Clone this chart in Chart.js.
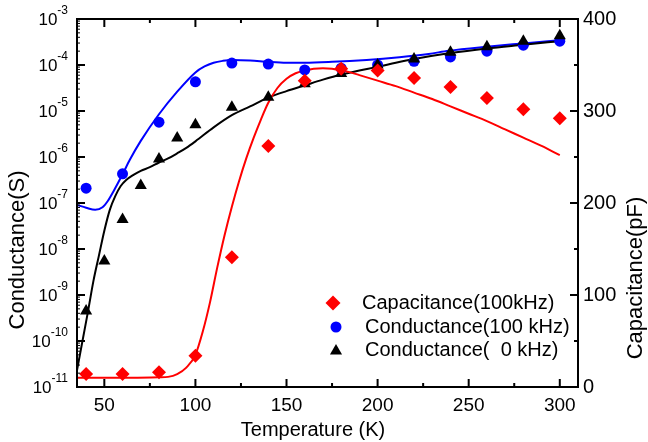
<!DOCTYPE html>
<html>
<head>
<meta charset="utf-8">
<title>Conductance and capacitance vs temperature</title>
<script src="https://cdn.jsdelivr.net/npm/chart.js@4.4.0/dist/chart.umd.min.js"></script>
<style>
  html, body { margin: 0; padding: 0; background: #fff; }
  #wrap { width: 648px; height: 442px; }
</style>
</head>
<body>
<div id="wrap"><canvas id="tempChart"></canvas></div>
<script>
// measured points
const tempPts = [40, 60, 80, 100, 120, 140, 160, 180, 200, 220, 240, 260, 280, 300];
const capPts = [14, 14, 16, 34, 141, 262, 333, 346, 344, 336, 326, 314, 302, 292];
const cond100Pts = [2.1e-7, 4.3e-7, 5.7e-6, 4.3e-5, 1.1e-4, 1.05e-4, 7.8e-5, 8.5e-5, 1.0e-4, 1.2e-4, 1.5e-4, 2.0e-4, 2.7e-4, 3.3e-4];
const temp0Pts = [40, 50, 60, 70, 80, 90, 100, 120, 140, 160, 180, 200, 220, 240, 260, 280, 300];
const cond0Pts = [4.5e-10, 5.5e-9, 4.4e-8, 2.4e-7, 9e-7, 2.6e-6, 5e-6, 1.2e-5, 2e-5, 3.9e-5, 6.5e-5, 1.0e-4, 1.35e-4, 1.9e-4, 2.5e-4, 3.3e-4, 4.3e-4];

// fitted curves
const capFitT = [35, 50, 65, 80, 85, 90, 95, 100, 104, 108, 112, 116, 120, 124, 128, 132, 136, 140, 145, 150, 155, 160, 165, 170, 175, 180, 185, 190, 200, 210, 220, 230, 240, 250, 260, 270, 280, 290, 300];
const capFit = [10, 10, 10, 10.5, 11, 14, 21, 35, 60, 92, 130, 165, 196, 224, 249, 271, 291, 309, 325, 335, 341, 344, 346, 346.5, 346, 344, 342, 339, 333, 327, 320, 313, 305, 297, 289, 280, 271, 262, 252];
const cond100FitT = [35, 40, 45, 49, 52, 55, 60, 64, 70, 80, 90, 100, 105, 110, 115, 120, 130, 140, 150, 160, 175, 194, 212, 228, 239, 260, 280, 300];
const cond100Fit = [9.1e-8, 7.9e-8, 7.1e-8, 8.1e-8, 1.12e-7, 1.78e-7, 4.2e-7, 8.7e-7, 2.24e-6, 8.5e-6, 2.63e-5, 6.9e-5, 9.3e-5, 1.12e-4, 1.23e-4, 1.29e-4, 1.26e-4, 1.17e-4, 1.12e-4, 1.12e-4, 1.17e-4, 1.29e-4, 1.48e-4, 1.74e-4, 2.04e-4, 2.5e-4, 2.95e-4, 3.47e-4];
const cond0FitT = [35, 38, 41, 44, 47, 50, 53, 56, 59, 62, 66, 70, 75, 80, 85, 90, 95, 100, 110, 120, 130, 140, 150, 160, 170, 180, 190, 200, 210, 220, 240, 260, 280, 300];
const cond0Fit = [2.3e-11, 1.0e-10, 4.3e-10, 2.0e-9, 7.1e-9, 2.5e-8, 7.1e-8, 1.41e-7, 2.34e-7, 3.16e-7, 4.1e-7, 5.0e-7, 6.0e-7, 7.6e-7, 9.3e-7, 1.2e-6, 1.58e-6, 2.19e-6, 4.4e-6, 8.1e-6, 1.26e-5, 1.95e-5, 2.7e-5, 3.6e-5, 4.8e-5, 6.2e-5, 7.6e-5, 9.1e-5, 1.12e-4, 1.35e-4, 1.82e-4, 2.29e-4, 2.75e-4, 3.3e-4];

// axis ticks
const xTicks = [50, 100, 150, 200, 250, 300];
const xMinorTicks = [75, 125, 175, 225, 275];
const capTicks = [0, 100, 200, 300, 400];
const capMinorTicks = [50, 150, 250, 350];
const condExponents = [-3, -4, -5, -6, -7, -8, -9, -10, -11];

const legendLabels = ['Capacitance(100kHz)', 'Conductance(100 kHz)', 'Conductance(  0 kHz)'];

const RED = '#ff0000', BLUE = '#0000ff', BLACK = '#000000';
const FONT = "'Liberation Sans', Arial, sans-serif";
Chart.defaults.font.family = FONT;

const pairs = (xs, ys) => xs.map((x, i) => ({ x: x, y: ys[i] }));

function marker(ctx, style, x, y, r) {
  ctx.beginPath();
  if (style === 'rectRot') {
    ctx.moveTo(x, y - r); ctx.lineTo(x + r, y); ctx.lineTo(x, y + r); ctx.lineTo(x - r, y);
  } else if (style === 'triangle') {
    ctx.moveTo(x, y - r);
    ctx.lineTo(x + r * 0.866, y + r * 0.5);
    ctx.lineTo(x - r * 0.866, y + r * 0.5);
  } else {
    ctx.arc(x, y, r, 0, Math.PI * 2);
  }
  ctx.closePath();
  ctx.fill();
}

// frame, inward ticks, log labels, titles and legend
const decorations = {
  id: 'decorations',
  afterDraw(chart) {
    const { ctx, chartArea: a, scales } = chart;
    const x = scales.x, yL = scales.y, yR = scales.yR;
    ctx.save();
    ctx.strokeStyle = BLACK;
    ctx.fillStyle = BLACK;

    ctx.lineWidth = 2;
    ctx.strokeRect(a.left, a.top, a.right - a.left, a.bottom - a.top);

    ctx.beginPath();
    const tickX = (v, len) => {
      const px = x.getPixelForValue(v);
      ctx.moveTo(px, a.bottom); ctx.lineTo(px, a.bottom - len);
      ctx.moveTo(px, a.top); ctx.lineTo(px, a.top + len);
    };
    xTicks.forEach(v => tickX(v, 8));
    xMinorTicks.forEach(v => tickX(v, 4));
    condExponents.forEach(e => {
      const py = yL.getPixelForValue(Math.pow(10, e));
      ctx.moveTo(a.left, py); ctx.lineTo(a.left + 8, py);
    });
    capTicks.forEach(v => {
      const py = yR.getPixelForValue(v);
      ctx.moveTo(a.right, py); ctx.lineTo(a.right - 8, py);
    });
    capMinorTicks.forEach(v => {
      const py = yR.getPixelForValue(v);
      ctx.moveTo(a.right, py); ctx.lineTo(a.right - 4, py);
    });
    ctx.stroke();

    // log minor ticks
    ctx.lineWidth = 1;
    ctx.beginPath();
    condExponents.slice(1).forEach(e => {
      for (let m = 2; m <= 9; m++) {
        const py = yL.getPixelForValue(m * Math.pow(10, e));
        ctx.moveTo(a.left, py); ctx.lineTo(a.left + 3, py);
      }
    });
    ctx.stroke();

    // left tick labels 10^n
    ctx.textBaseline = 'middle';
    ctx.textAlign = 'right';
    condExponents.forEach(e => {
      const py = yL.getPixelForValue(Math.pow(10, e));
      const sup = String(e);
      ctx.font = '12px ' + FONT;
      const w = ctx.measureText(sup).width;
      ctx.fillText(sup, 68, py - 8);
      ctx.font = '17px ' + FONT;
      ctx.fillText('10', 68 - w, py + 1);
    });

    // axis titles
    ctx.textAlign = 'center';
    ctx.font = '20px ' + FONT;
    ctx.fillText('Temperature (K)', 313, 430);
    ctx.font = '22px ' + FONT;
    ctx.save();
    ctx.translate(18, 250);
    ctx.rotate(-Math.PI / 2);
    ctx.fillText('Conductance(S)', 0, 0);
    ctx.restore();
    ctx.save();
    ctx.translate(636, 278);
    ctx.rotate(-Math.PI / 2);
    ctx.fillText('Capacitance(pF)', 0, 0);
    ctx.restore();

    // legend
    const items = [
      { style: 'rectRot', color: RED, r: 7.5, mx: 333, tx: 362, y: 303 },
      { style: 'circle', color: BLUE, r: 5.5, mx: 336, tx: 365, y: 327 },
      { style: 'triangle', color: BLACK, r: 7, mx: 336, tx: 365, y: 350 }
    ];
    ctx.font = '20px ' + FONT;
    ctx.textAlign = 'left';
    items.forEach((it, i) => {
      ctx.fillStyle = it.color;
      marker(ctx, it.style, it.mx, it.style === 'triangle' ? it.y + 1 : it.y, it.r);
      ctx.fillStyle = BLACK;
      ctx.fillText(legendLabels[i], it.tx, it.y);
    });
    ctx.restore();
  }
};

const fitLine = { showLine: true, pointRadius: 0, borderWidth: 2, cubicInterpolationMode: 'monotone' };

new Chart(document.getElementById('tempChart'), {
  type: 'scatter',
  data: {
    datasets: [
      {
        label: legendLabels[0], data: pairs(tempPts, capPts), yAxisID: 'yR',
        pointStyle: 'rectRot', pointRadius: 7, borderWidth: 0,
        backgroundColor: RED, borderColor: RED
      },
      {
        label: legendLabels[2], data: pairs(temp0Pts, cond0Pts), yAxisID: 'y',
        pointStyle: 'triangle', pointRadius: 7, borderWidth: 0,
        backgroundColor: BLACK, borderColor: BLACK
      },
      {
        label: legendLabels[1], data: pairs(tempPts, cond100Pts), yAxisID: 'y',
        pointStyle: 'circle', pointRadius: 5.5, borderWidth: 0,
        backgroundColor: BLUE, borderColor: BLUE
      },
      Object.assign({ label: 'capacitance fit', data: pairs(capFitT, capFit), yAxisID: 'yR', borderColor: RED }, fitLine),
      Object.assign({ label: 'conductance 0 kHz fit', data: pairs(cond0FitT, cond0Fit), yAxisID: 'y', borderColor: BLACK }, fitLine),
      Object.assign({ label: 'conductance 100 kHz fit', data: pairs(cond100FitT, cond100Fit), yAxisID: 'y', borderColor: BLUE }, fitLine)
    ]
  },
  options: {
    responsive: true,
    maintainAspectRatio: false,
    animation: false,
    layout: { padding: { top: 19, left: 0, right: 0, bottom: 0 } },
    plugins: {
      legend: { display: false },
      tooltip: { enabled: false }
    },
    scales: {
      x: {
        type: 'linear', min: 35, max: 310,
        afterBuildTicks: s => { s.ticks = xTicks.map(v => ({ value: v })); },
        afterFit: s => { s.height = 55; },
        grid: { display: false, drawTicks: false },
        border: { display: false },
        ticks: { font: { size: 19 }, color: BLACK, padding: 7, maxRotation: 0, autoSkip: false }
      },
      y: {
        type: 'logarithmic', position: 'left', min: 1e-11, max: 1e-3,
        afterFit: s => { s.width = 77; },
        grid: { display: false, drawTicks: false },
        border: { display: false },
        ticks: { display: false }
      },
      yR: {
        type: 'linear', position: 'right', min: 0, max: 400,
        afterBuildTicks: s => { s.ticks = capTicks.map(v => ({ value: v })); },
        afterFit: s => { s.width = 70; },
        grid: { display: false, drawTicks: false },
        border: { display: false },
        ticks: { font: { size: 20 }, color: BLACK, padding: 5 }
      }
    }
  },
  plugins: [decorations]
});
</script>
</body>
</html>
